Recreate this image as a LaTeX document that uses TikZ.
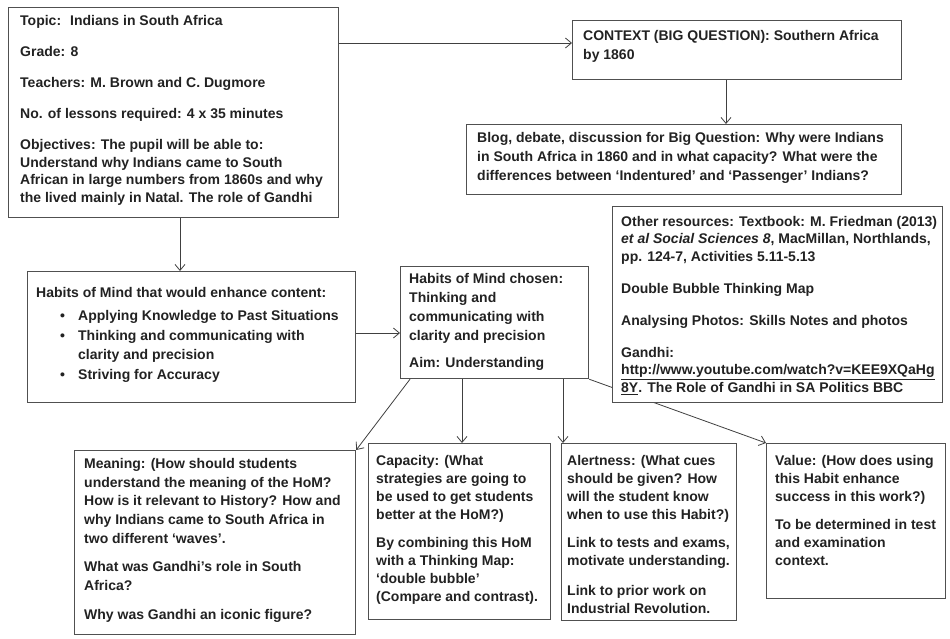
\documentclass[tikz,border=0pt]{standalone}
\usepackage{fontspec}
\setmainfont{Liberation Sans}
\usetikzlibrary{arrows.meta,calc}
\definecolor{bordc}{HTML}{505050}
\definecolor{arrc}{HTML}{404040}
\definecolor{txtc}{HTML}{222222}
\begin{document}
\begin{tikzpicture}[x=1pt,y=-1pt,
  box/.style={draw=bordc, line width=1.2pt, fill=white, rectangle, inner sep=0pt, anchor=north west},
  txt/.style={anchor=north west, inner sep=0pt, align=left, text=txtc, font=\bfseries\fontsize{14}{#1}\selectfont},
  txt/.default=18,
  arr/.style={draw=arrc, line width=0.8pt, -{Straight Barb[length=6pt,width=10pt]}}
]
\fill[white] (0,0) rectangle (950,638);
\useasboundingbox (0,0) rectangle (950,638);

% boxes
\node[box, minimum width=330pt, minimum height=210pt] (topic) at (8,7) {};
\node[box, minimum width=329pt, minimum height=59pt] (ctx) at (572,20) {};
\node[box, minimum width=435pt, minimum height=70pt] (blog) at (466,124) {};
\node[box, minimum width=328pt, minimum height=131pt] (hab) at (27,271) {};
\node[box, minimum width=188pt, minimum height=112pt] (cho) at (400,266) {};
\node[box, minimum width=281pt, minimum height=184pt] (mean) at (74,450) {};
\node[box, minimum width=182pt, minimum height=176pt] (cap) at (368,443) {};
\node[box, minimum width=175pt, minimum height=177pt] (alert) at (561,443) {};
\node[box, minimum width=179pt, minimum height=155pt] (val) at (766,443) {};

% connectors
\coordinate (a1) at (0,43);
\coordinate (a2) at (726,0);
\coordinate (a3) at (180,0);
\coordinate (a4) at (0,333);
\coordinate (a5) at (462,0);
\coordinate (a6) at (563,0);
\draw[arr] (topic.east |- a1) -- (ctx.west |- a1);
\draw[arr] (ctx.south -| a2) -- (blog.north -| a2);
\draw[arr] (topic.south -| a3) -- (hab.north -| a3);
\draw[arr] (hab.east |- a4) -- (cho.west |- a4);
\draw[arr] ($(cho.south west)+(10,0)$) -- (mean.north east);
\draw[arr] (cho.south -| a5) -- (cap.north -| a5);
\draw[arr] (cho.south -| a6) -- (alert.north -| a6);
\draw[arr] (cho.south east) -- (val.north west);

% other resources box drawn over the last connector
\node[box, minimum width=330pt, minimum height=196pt] (oth) at (612,206) {};

% texts
\node[txt=17.7] (topict) at (20,15) {Topic: \ Indians in South Africa\\[13.3pt]
Grade: 8\\[13.3pt]
Teachers: M. Brown and C. Dugmore\\[13.3pt]
No. of lessons required: 4 x 35 minutes\\[13.3pt]
Objectives: The pupil will be able to:\\
Understand why Indians came to South\\
African in large numbers from 1860s and why\\
the lived mainly in Natal. The role of Gandhi};

\node[txt=19] (ctxt) at (583,30) {CONTEXT (BIG QUESTION): Southern Africa\\ by 1860};

\node[txt=19] (blogt) at (477,132) {Blog, debate, discussion for Big Question: Why were Indians\\
in South Africa in 1860 and in what capacity? What were the\\
differences between ‘Indentured’ and ‘Passenger’ Indians?};

\node[txt=17.5] (otht) at (621,216) {Other resources: Textbook: M. Friedman (2013)\\
\textit{et al Social Sciences 8}, MacMillan, Northlands,\\
pp. 124-7, Activities 5.11-5.13\\[14.5pt]
Double Bubble Thinking Map\\[14.5pt]
Analysing Photos: Skills Notes and photos\\[14.5pt]
Gandhi:\\
\underline{http://www.youtube.com/watch?v=KEE9XQaHg}\\
\underline{8Y}. The Role of Gandhi in SA Politics BBC};

\node[txt=19.5] (habt) at (36,287) {Habits of Mind that would enhance content:\\[4pt]
\hspace*{24pt}\makebox[18pt][l]{•}Applying Knowledge to Past Situations\\
\hspace*{24pt}\makebox[18pt][l]{•}Thinking and communicating with\\
\hspace*{42pt}clarity and precision\\
\hspace*{24pt}\makebox[18pt][l]{•}Striving for Accuracy};

\node[txt=19] (chot) at (409,273) {Habits of Mind chosen:\\
Thinking and\\
communicating with\\
clarity and precision\\[8pt]
Aim: Understanding};

\node[txt=18.7] (meant) at (84,458) {Meaning: (How should students\\
understand the meaning of the HoM?\\
How is it relevant to History? How and\\
why Indians came to South Africa in\\
two different ‘waves’.\\[10pt]
What was Gandhi’s role in South\\
Africa?\\[10pt]
Why was Gandhi an iconic figure?};

\node[txt=18] (capt) at (376,455) {Capacity: (What\\
strategies are going to\\
be used to get students\\
better at the HoM?)\\[10pt]
By combining this HoM\\
with a Thinking Map:\\
‘double bubble’\\
(Compare and contrast).};

\node[txt=18] (alertt) at (567,455) {Alertness: (What cues\\
should be given? How\\
will the student know\\
when to use this Habit?)\\[10pt]
Link to tests and exams,\\
motivate understanding.\\[12pt]
Link to prior work on\\
Industrial Revolution.};

\node[txt=18] (valt) at (775,455) {Value: (How does using\\
this Habit enhance\\
success in this work?)\\[10pt]
To be determined in test\\
and examination\\
context.};
\end{tikzpicture}
\end{document}
